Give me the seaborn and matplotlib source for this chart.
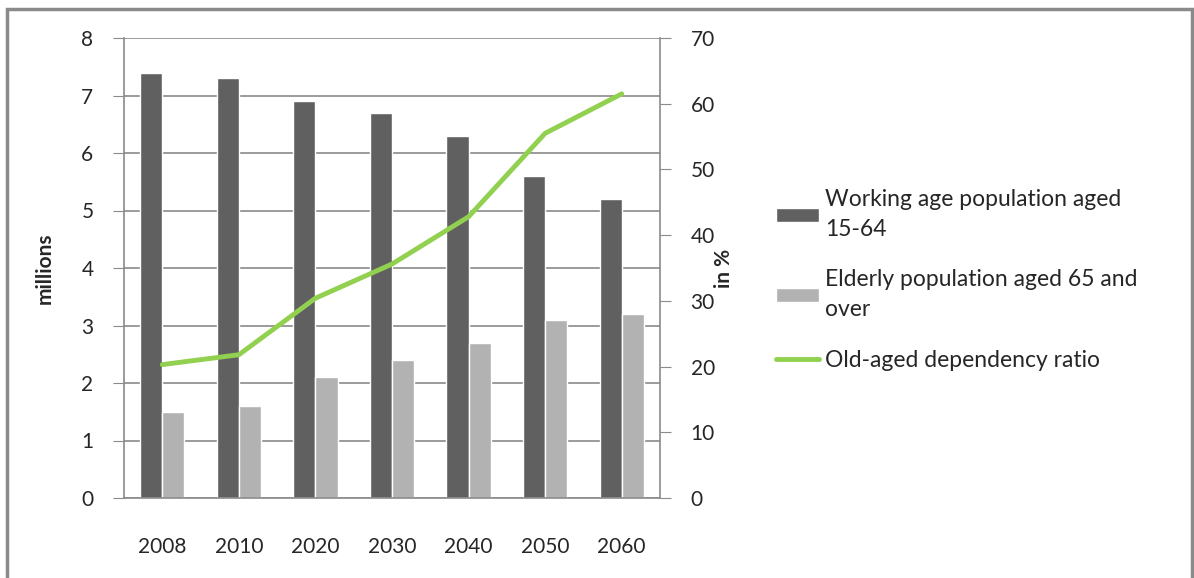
import numpy as np
import pandas as pd
import matplotlib
matplotlib.use('Agg')
import matplotlib.pyplot as plt
import seaborn as sns
from matplotlib.patches import Rectangle

years = ['2008', '2010', '2020', '2030', '2040', '2050', '2060']
working = [7.4, 7.3, 6.9, 6.7, 6.3, 5.6, 5.2]
elderly = [1.5, 1.6, 2.1, 2.4, 2.7, 3.1, 3.2]
dependency = [20.3, 21.8, 30.4, 35.6, 42.8, 55.5, 61.5]

LBL_WORK = 'Working age population aged\n15-64'
LBL_OLD = 'Elderly population aged 65 and\nover'
LBL_DEP = 'Old-aged dependency ratio'

sns.set_style('white')
plt.rcParams['font.family'] = ['Lato', 'DejaVu Sans']

df = pd.DataFrame({
    'year': years * 2,
    'value': working + elderly,
    'group': [LBL_WORK] * len(years) + [LBL_OLD] * len(years),
})

fig = plt.figure(figsize=(11.94, 5.78), dpi=100)
ax = fig.add_axes([124 / 1194, 1 - 498 / 578, 536 / 1194, 460 / 578])

sns.barplot(data=df, x='year', y='value', hue='group', order=years,
            palette=['#606060', '#b2b2b2'], width=0.58, ax=ax,
            saturation=1, legend=True)

ax.set_ylim(0, 8)
ax.set_yticks(range(0, 9))
ax.set_xlim(-0.5, len(years) - 0.5)
ax.yaxis.grid(True, color='#8a8a8a', lw=1.2)
ax.set_axisbelow(True)
ax.set_xlabel('')
ax.set_ylabel('millions', fontsize=15, fontweight='bold')
ax.yaxis.set_label_coords(-0.13, 0.5)
ax.tick_params(axis='y', labelsize=15, length=8, color='#8a8a8a', pad=14, left=True)
ax.tick_params(axis='x', labelsize=15, length=0, pad=28)
for s in ['top', 'right']:
    ax.spines[s].set_visible(False)
for s in ['left', 'bottom']:
    ax.spines[s].set_color('#8a8a8a')
    ax.spines[s].set_linewidth(1.2)

ax2 = ax.twinx()
sns.lineplot(x=np.arange(len(years)), y=dependency, color='#92d050', lw=3.5,
             ax=ax2, label=LBL_DEP)
ax2.set_ylim(0, 70)
ax2.set_yticks(range(0, 71, 10))
ax2.set_ylabel('in %', fontsize=15, fontweight='bold')
ax2.yaxis.set_label_coords(1.10, 0.5)
ax2.tick_params(axis='y', labelsize=15, length=8, color='#8a8a8a', pad=14, right=True)
for s in ['top', 'left', 'bottom']:
    ax2.spines[s].set_visible(False)
ax2.spines['right'].set_color('#8a8a8a')
ax2.spines['right'].set_linewidth(1.2)

h1, l1 = ax.get_legend_handles_labels()
h2, l2 = ax2.get_legend_handles_labels()
ax.get_legend().remove()
ax2.get_legend().remove()
leg = fig.legend(h1 + h2, l1 + l2, loc='center left',
                 bbox_to_anchor=(755 / 1194, 1 - 280 / 578),
                 frameon=False, fontsize=16.5, handlelength=1.9, handleheight=0.57,
                 handletextpad=0.25, labelspacing=1.3)
for t in leg.get_texts():
    t.set_linespacing(1.5)

fig.patches.append(Rectangle((7 / 1194, -0.05), 1185 / 1194, 1.05 - 9 / 578,
                             transform=fig.transFigure, fill=False,
                             edgecolor='#8a8a8a', lw=2.5))

fig.savefig('out.png', dpi=100)
